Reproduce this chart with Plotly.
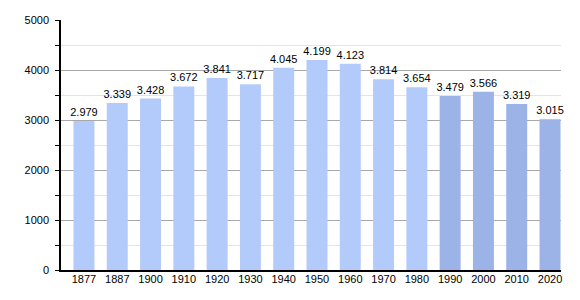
import plotly.graph_objects as go

years = ["1877", "1887", "1900", "1910", "1920", "1930", "1940", "1950",
         "1960", "1970", "1980", "1990", "2000", "2010", "2020"]
population = [2979, 3339, 3428, 3672, 3841, 3717, 4045, 4199,
              4123, 3814, 3654, 3479, 3566, 3319, 3015]
labels = ["2.979", "3.339", "3.428", "3.672", "3.841", "3.717", "4.045", "4.199",
          "4.123", "3.814", "3.654", "3.479", "3.566", "3.319", "3.015"]
y_ticks = [0, 1000, 2000, 3000, 4000, 5000]

light = "#b3cbfb"
dark = "#9bb3e7"
colors = [light if int(y) < 1990 else dark for y in years]
xs = list(range(len(years)))

fig = go.Figure(go.Bar(
    x=xs, y=population, text=labels, textposition="outside",
    constraintext="none",
    marker=dict(color=colors, line=dict(width=0)),
    textfont=dict(family="Liberation Sans, Arial", size=11, color="#000"),
    cliponaxis=False, width=0.63,
))

fig.update_layout(
    width=580, height=300,
    margin=dict(l=61, r=19, t=20, b=30),
    paper_bgcolor="white", plot_bgcolor="white",
    showlegend=False,
    font=dict(family="Liberation Sans, Arial", size=11, color="#000"),
    xaxis=dict(
        range=[-0.69, 14.33], tickvals=xs, ticktext=years,
        showgrid=False, showline=True, linecolor="#000", linewidth=1.5,
        ticks="", zeroline=False, tickfont=dict(size=11),
        ticklabelstandoff=-2,
    ),
    yaxis=dict(
        range=[0, 5000], tickvals=y_ticks,
        showgrid=True, gridcolor="#a8a8a8", gridwidth=1,
        showline=True, linecolor="#000", linewidth=1.5,
        ticks="outside", ticklen=4, tickcolor="#000",
        zeroline=False, tickfont=dict(size=11), ticklabelstandoff=4,
        minor=dict(dtick=500, showgrid=True, gridcolor="#e4e4e4",
                   ticks="outside", ticklen=4, tickcolor="#000"),
    ),
)

fig.write_html("out.html")
